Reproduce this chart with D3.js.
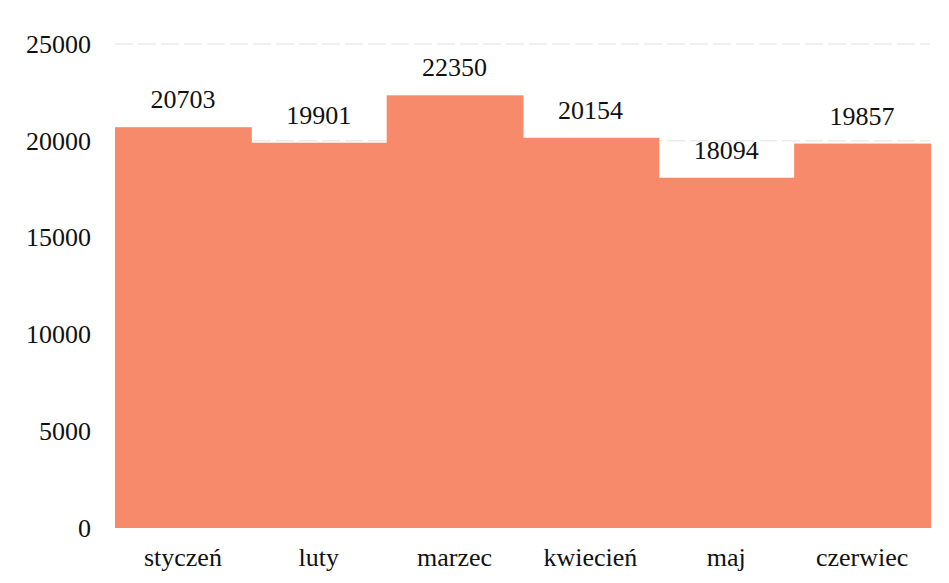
<!DOCTYPE html>
<html><head><meta charset="utf-8">
<script src="https://cdn.jsdelivr.net/npm/d3@7"></script>
<style>body{margin:0;background:#fff}svg{display:block}</style>
</head><body>
<svg id="c" width="949" height="583"></svg>
<script>
const categories = ["styczeń","luty","marzec","kwiecień","maj","czerwiec"];
const values = [20703,19901,22350,20154,18094,19857];
const yTicks = [0,5000,10000,15000,20000,25000];

const svg = d3.select("#c");
const m = {left:115, right:19, top:44, bottom:55};
const W = 949, H = 583;
const x = d3.scaleBand().domain(categories).range([m.left, W-m.right]).padding(0);
const y = d3.scaleLinear().domain([0,25000]).range([H-m.bottom, m.top]);
const font = "'Liberation Serif','Times New Roman',serif";

// gridlines
svg.append("g").selectAll("line").data(yTicks.filter(d=>d>0)).join("line")
  .attr("x1", m.left).attr("x2", W-m.right)
  .attr("y1", d=>y(d)).attr("y2", d=>y(d))
  .attr("stroke","#e2e2e2").attr("stroke-width",1).attr("stroke-dasharray","18,5");

// bars
svg.append("g").selectAll("rect").data(values).join("rect")
  .attr("x",(d,i)=>x(categories[i])).attr("width",x.bandwidth()+1)
  .attr("y",d=>y(d)).attr("height",d=>y(0)-y(d))
  .attr("fill","#f78a6a");

// value labels
svg.append("g").selectAll("text").data(values).join("text")
  .attr("x",(d,i)=>x(categories[i])+x.bandwidth()/2)
  .attr("y",d=>y(d)-19)
  .attr("text-anchor","middle").attr("font-family",font).attr("font-size",26).attr("fill","#111")
  .text(d=>d);

// y axis
const ya = svg.append("g").attr("transform",`translate(${m.left},0)`)
  .call(d3.axisLeft(y).tickValues(yTicks).tickSize(0).tickPadding(24).tickFormat(d=>d));
ya.select(".domain").remove();
ya.selectAll("text").attr("font-family",font).attr("font-size",26).attr("fill","#111");

// x axis
const xa = svg.append("g").attr("transform",`translate(0,${y(0)})`)
  .call(d3.axisBottom(x).tickSize(0).tickPadding(20));
xa.select(".domain").remove();
xa.selectAll("text").attr("font-family",font).attr("font-size",26).attr("fill","#111");
</script>
</body></html>
